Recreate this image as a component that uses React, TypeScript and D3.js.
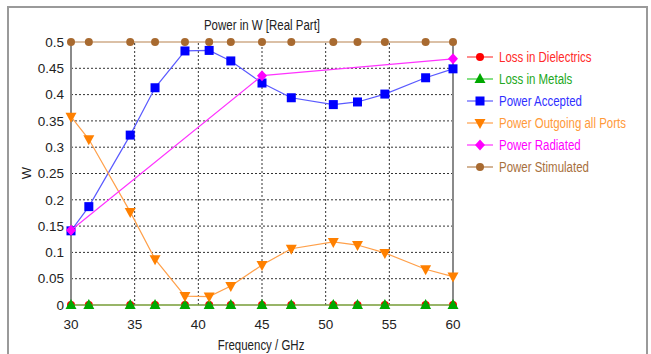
import React from "react";
import * as d3 from "d3";

// frequency samples (GHz) shared by most curves
const freqs = [30, 31.4, 34.65, 36.6, 38.95, 40.85, 42.55, 45, 47.3, 50.6, 52.5, 54.65, 57.85, 60];
const lossDielectrics = [0, 0, 0, 0, 0, 0, 0, 0, 0, 0, 0, 0, 0, 0];
const lossMetals = [0, 0, 0, 0, 0, 0, 0, 0, 0, 0, 0, 0, 0, 0];
const powerAccepted = [0.141, 0.187, 0.323, 0.413, 0.483, 0.484, 0.464, 0.422, 0.394, 0.381, 0.386, 0.401, 0.432, 0.449];
const powerOutgoing = [0.358, 0.315, 0.177, 0.087, 0.017, 0.016, 0.036, 0.076, 0.107, 0.12, 0.114, 0.099, 0.068, 0.054];
const radiatedFreqs = [30, 45, 60];
const powerRadiated = [0.142, 0.436, 0.468];
const powerStimulated = [0.5, 0.5, 0.5, 0.5, 0.5, 0.5, 0.5, 0.5, 0.5, 0.5, 0.5, 0.5, 0.5, 0.5];

const xTicks = [30, 35, 40, 45, 50, 55, 60];
const yTicks = [0, 0.05, 0.1, 0.15, 0.2, 0.25, 0.3, 0.35, 0.4, 0.45, 0.5];

type Series = {
  name: string;
  xs: number[];
  ys: number[];
  line: string;
  marker: string;
  text: string;
  symbol: string;
};

const series: Series[] = [
  { name: "Loss in Dielectrics", xs: freqs, ys: lossDielectrics, line: "#ff4040", marker: "#ff0000", text: "#ff2a2a", symbol: "circle" },
  { name: "Loss in Metals", xs: freqs, ys: lossMetals, line: "#33cc33", marker: "#00a800", text: "#22a822", symbol: "up" },
  { name: "Power Accepted", xs: freqs, ys: powerAccepted, line: "#5a5aff", marker: "#0000ff", text: "#3030ff", symbol: "square" },
  { name: "Power Outgoing all Ports", xs: freqs, ys: powerOutgoing, line: "#ffa04a", marker: "#ff8000", text: "#ff9a3a", symbol: "down" },
  { name: "Power Radiated", xs: radiatedFreqs, ys: powerRadiated, line: "#ff33ff", marker: "#ff00ff", text: "#ff00ff", symbol: "diamond" },
  { name: "Power Stimulated", xs: freqs, ys: powerStimulated, line: "#b8824f", marker: "#a86a30", text: "#a8703c", symbol: "circle" },
];

const width = 651;
const height = 354;
const margin = { left: 71, right: 198, top: 42, bottom: 49 };

const font = "'Liberation Sans', Arial, sans-serif";
// the reference uses a narrow UI face; squeeze Liberation Sans to match
const squeeze = 0.82;

function Marker({ symbol, x, y, color }: { symbol: string; x: number; y: number; color: string }) {
  if (symbol === "circle") return <circle cx={x} cy={y} r={4} fill={color} />;
  if (symbol === "square") return <rect x={x - 4.5} y={y - 4.5} width={9} height={9} fill={color} />;
  if (symbol === "diamond")
    return <path d={`M${x},${y - 5.5}L${x + 5},${y}L${x},${y + 5.5}L${x - 5},${y}Z`} fill={color} />;
  if (symbol === "up")
    return <path d={`M${x},${y - 6}L${x + 5.5},${y + 4}L${x - 5.5},${y + 4}Z`} fill={color} />;
  return <path d={`M${x},${y + 6}L${x + 5.5},${y - 4}L${x - 5.5},${y - 4}Z`} fill={color} />;
}

export default function App() {
  const x = d3.scaleLinear().domain([30, 60]).range([margin.left, width - margin.right]);
  const y = d3.scaleLinear().domain([0, 0.5]).range([height - margin.bottom, margin.top]);
  const line = d3
    .line<[number, number]>()
    .x((d) => x(d[0]))
    .y((d) => y(d[1]));

  const x0 = x(30);
  const x1 = x(60);
  const y0 = y(0);
  const y1 = y(0.5);

  return (
    <svg
      width={width}
      height={height}
      style={{ position: "absolute", left: 0, top: 0, background: "#fff" }}
      fontFamily={font}
    >
      {/* outer frame */}
      <rect x={8} y={7} width={639} height={360} fill="none" stroke="#9a9a9a" strokeWidth={2} />

      {/* grid */}
      {xTicks.slice(1, -1).map((t) => (
        <line key={"gx" + t} x1={x(t)} x2={x(t)} y1={y0} y2={y1} stroke="#333" strokeDasharray="2,2" />
      ))}
      {yTicks.slice(1, -1).map((t) => (
        <line key={"gy" + t} x1={x0} x2={x1} y1={y(t)} y2={y(t)} stroke="#333" strokeDasharray="2,2" />
      ))}
      <line x1={x0} x2={x0} y1={y0} y2={y1} stroke="#8a8a8a" strokeWidth={2} />
      <line x1={x1} x2={x1} y1={y0} y2={y1} stroke="#8a8a8a" strokeWidth={2} />

      {/* ticks */}
      {yTicks.map((t) => (
        <text key={"ty" + t} x={x0 - 7} y={y(t)} dy="0.35em" textAnchor="end" fontSize={13.5} fill="#222">
          {d3.format("")(t)}
        </text>
      ))}
      {xTicks.map((t) => (
        <text key={"tx" + t} x={x(t)} y={y0 + 24} textAnchor="middle" fontSize={13.5} fill="#222">
          {t}
        </text>
      ))}

      <text transform={`translate(262,30) scale(${squeeze},1)`} textAnchor="middle" fontSize={14} fill="#222">
        Power in W [Real Part]
      </text>
      <text transform={`translate(261,350) scale(${squeeze},1)`} textAnchor="middle" fontSize={14} fill="#222">
        Frequency / GHz
      </text>
      <text transform={`translate(31,173) rotate(-90)`} textAnchor="middle" fontSize={13} fill="#222">
        W
      </text>

      {/* series */}
      {series.map((s) => {
        const pts = s.xs.map((f, i) => [f, s.ys[i]] as [number, number]);
        return (
          <g key={s.name}>
            <path d={line(pts) ?? ""} fill="none" stroke={s.line} strokeWidth={1.2} />
            {pts.map((p, i) => (
              <Marker key={i} symbol={s.symbol} x={x(p[0])} y={y(p[1])} color={s.marker} />
            ))}
          </g>
        );
      })}

      {/* legend */}
      {series.map((s, i) => {
        const ly = 57 + i * 22;
        return (
          <g key={"lg" + s.name}>
            <line x1={467} x2={493} y1={ly} y2={ly} stroke={s.line} strokeWidth={1.2} />
            <Marker symbol={s.symbol} x={480} y={ly} color={s.marker} />
            <text transform={`translate(499,${ly}) scale(${squeeze},1)`} dy="0.35em" fontSize={14} fill={s.text}>
              {s.name}
            </text>
          </g>
        );
      })}
    </svg>
  );
}
